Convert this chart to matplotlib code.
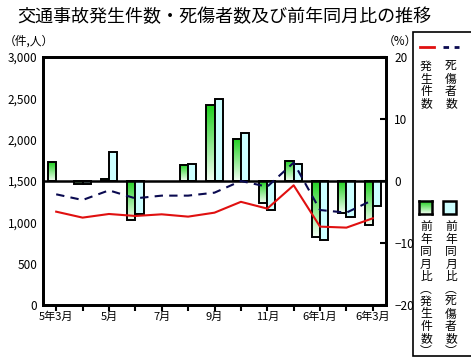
import numpy as np
import matplotlib
matplotlib.use('Agg')
import matplotlib.pyplot as plt
from matplotlib.colors import LinearSegmentedColormap
from matplotlib.patches import Rectangle
from matplotlib.lines import Line2D

plt.rcParams['font.family'] = ['Noto Sans CJK JP', 'DejaVu Sans']

# ── data ──────────────────────────────────────────────────────────────────────
months = ['5年3月', '4月', '5月', '6月', '7月', '8月', '9月', '10月',
          '11月', '12月', '6年1月', '2月', '6年3月']
tick_labels = ['5年3月', '', '5月', '', '7月', '', '9月', '',
               '11月', '', '6年1月', '', '6年3月']

accidents = [1129, 1057, 1101, 1077, 1097, 1069, 1117, 1248,
             1166, 1448, 948, 936, 1049]
casualties = [1339, 1270, 1387, 1290, 1323, 1323, 1359, 1500,
              1431, 1722, 1149, 1117, 1270]
acc_yoy = [3.0, -0.5, 0.4, -6.3, 0.0, 2.6, 12.2, 6.8,
           -3.5, 3.3, -9.1, -5.1, -7.1]
cas_yoy = [0.0, -0.5, 4.6, -5.3, 0.0, 2.8, 13.2, 7.8,
           -4.7, 2.7, -9.5, -5.8, -4.1]

C_ACC = '#e01010'
C_CAS = '#0a0a50'
C_CYAN = '#ccffff'
green_cmap = LinearSegmentedColormap.from_list('g', ['#f4fff4', '#1fd01f'])

# ── figure ────────────────────────────────────────────────────────────────────
W, H = 471, 364
fig = plt.figure(figsize=(W / 100, H / 100), dpi=100)
ax_pct = fig.add_axes([43 / W, 1 - 305 / H, (386 - 43) / W, (305 - 57) / H])
ax_cnt = ax_pct.twinx()

x = np.arange(len(months))
w = 0.31
grad = np.linspace(0, 1, 64).reshape(-1, 1)

for xi, v in zip(x, acc_yoy):
    if v == 0:
        continue
    ax_pct.imshow(grad, extent=[xi - w, xi, min(0, v), max(0, v)],
                  aspect='auto', origin='lower', cmap=green_cmap, zorder=2)
    ax_pct.add_patch(Rectangle((xi - w, 0), w, v, facecolor='none',
                               edgecolor='black', linewidth=1.4, zorder=3))
for xi, v in zip(x, cas_yoy):
    if v == 0:
        continue
    ax_pct.add_patch(Rectangle((xi, 0), w, v, facecolor=C_CYAN,
                               edgecolor='black', linewidth=1.4, zorder=3))

ax_pct.axhline(0, color='black', linewidth=1.8, zorder=4)

ax_cnt.plot(x, accidents, color=C_ACC, linewidth=1.5, zorder=5)
ax_cnt.plot(x, casualties, color=C_CAS, linewidth=1.5,
            linestyle=(0, (4, 3)), zorder=5)

ax_pct.set_xlim(-0.5, 12.5)
ax_pct.set_ylim(-20, 20)
ax_cnt.set_ylim(0, 3000)

# left axis: counts, right axis: percent
ax_cnt.yaxis.tick_left()
ax_cnt.yaxis.set_label_position('left')
ax_pct.yaxis.tick_right()
ax_cnt.set_yticks(np.arange(0, 3001, 500))
ax_cnt.set_yticklabels([f'{v:,}' for v in range(0, 3001, 500)])
ax_cnt.tick_params(axis='y', length=0, labelsize=8.5, pad=4)
ax_pct.set_yticks([-20, -10, 0, 10, 20])
ax_pct.tick_params(axis='y', direction='in', length=4, width=1.5,
                   labelsize=8.5, pad=6)
ax_pct.set_xticks(x)
ax_pct.set_xticklabels(tick_labels)
ax_pct.tick_params(axis='x', direction='out', length=4, width=1.5,
                   labelsize=8, pad=1)

for a in (ax_pct, ax_cnt):
    for s in a.spines.values():
        s.set_linewidth(2)

# ── texts ─────────────────────────────────────────────────────────────────────
fig.text(224 / W, 1 - 17 / H, '交通事故発生件数・死傷者数及び前年同月比の推移',
         ha='center', va='center', fontsize=13)
fig.text(4 / W, 1 - 41 / H, '（件,人）', ha='left', va='center', fontsize=8.5)
fig.text(383 / W, 1 - 41 / H, '（%）', ha='left', va='center', fontsize=8.5)

# ── legend box ────────────────────────────────────────────────────────────────
fig.patches.append(Rectangle((413 / W, 1 - 356 / H), 70 / W, (356 - 32) / H,
                             transform=fig.transFigure, facecolor='white',
                             edgecolor='black', linewidth=1.2, zorder=-1))
fig.lines.append(Line2D([420 / W, 434 / W], [1 - 47 / H] * 2, color=C_ACC,
                        linewidth=2, transform=fig.transFigure))
fig.lines.append(Line2D([443 / W, 459 / W], [1 - 47 / H] * 2, color=C_CAS,
                        linewidth=2, linestyle=(0, (2, 2)),
                        transform=fig.transFigure))


def vtext(xp, yp, s):
    fig.text(xp / W, 1 - yp / H, '\n'.join(s), ha='center', va='top',
             fontsize=8.5, linespacing=0.95)


vtext(426, 60, '発生件数')
vtext(451, 60, '死傷者数')

ax_leg = fig.add_axes([419 / W, 1 - 214 / H, 13 / W, 13 / H])
ax_leg.set_zorder(5)
ax_leg.imshow(grad, extent=[0, 1, 0, 1], aspect='auto', origin='lower',
              cmap=green_cmap)
ax_leg.set_xticks([])
ax_leg.set_yticks([])
for s in ax_leg.spines.values():
    s.set_linewidth(1.8)
fig.patches.append(Rectangle((443 / W, 1 - 214 / H), 13 / W, 13 / H,
                             transform=fig.transFigure, facecolor=C_CYAN,
                             edgecolor='black', linewidth=1.8))

vtext(426, 220, '前年同月比︵発生件数︶')
vtext(451, 220, '前年同月比︵死傷者数︶')

fig.savefig('out.png', dpi=100)
